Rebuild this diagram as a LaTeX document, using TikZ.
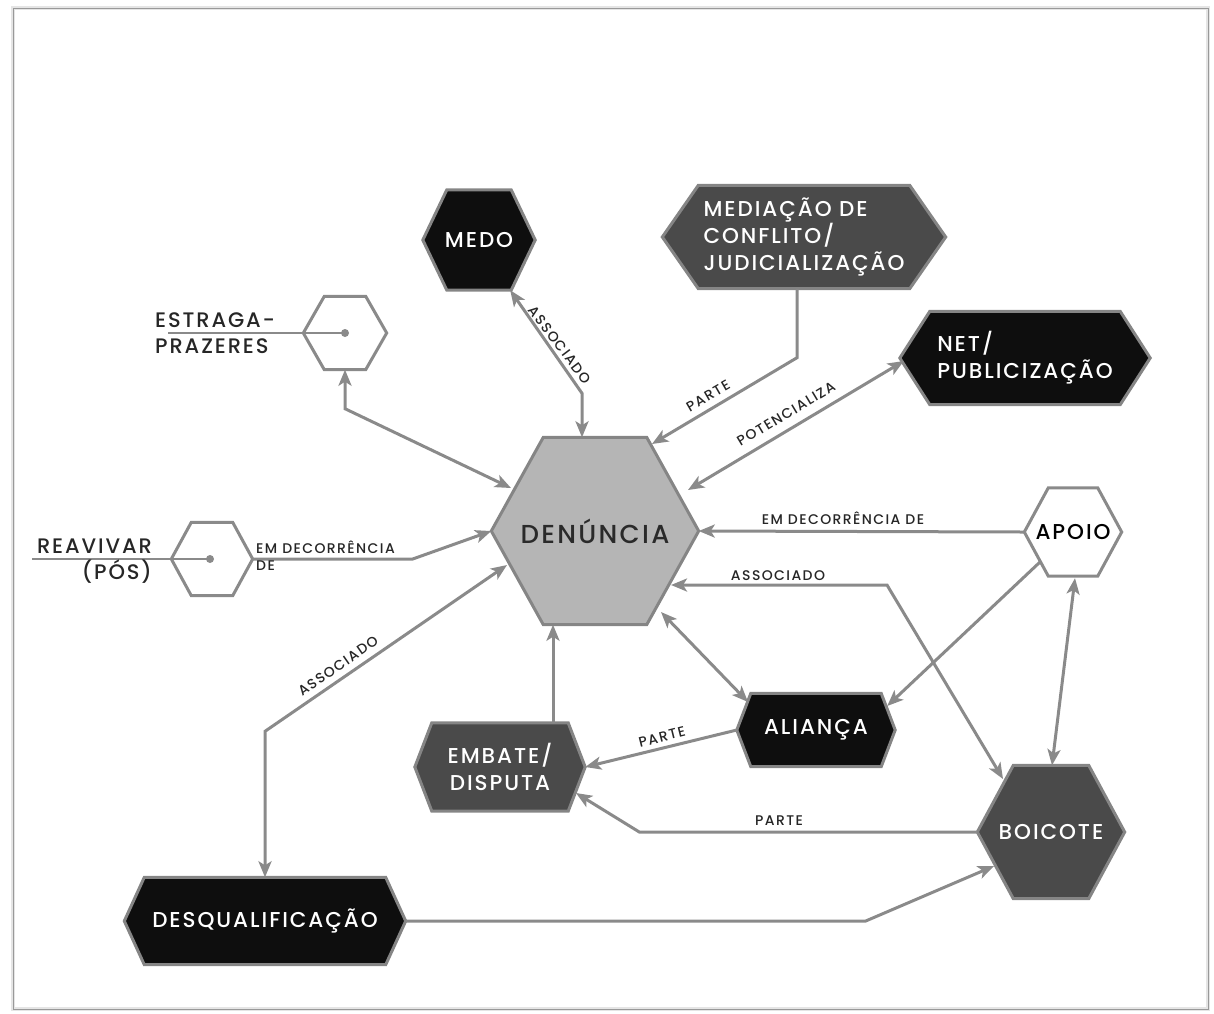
\documentclass[tikz,border=0pt]{standalone}
\usepackage{fontspec}
\setmainfont{Poppins}[UprightFont=* Medium, LetterSpace=9]
\newfontfamily\lblfont{Poppins}[UprightFont=* Medium, LetterSpace=10]
\usetikzlibrary{calc,arrows.meta}
\pgfdeclarelayer{bg}
\pgfsetlayers{bg,main}
\definecolor{edgegray}{HTML}{8A8A8A}
\definecolor{hexborder}{HTML}{858585}
\definecolor{darkfill}{HTML}{4A4A4A}
\definecolor{blackfill}{HTML}{0E0E0E}
\definecolor{denfill}{HTML}{B5B5B5}
\definecolor{dentext}{HTML}{2A2A2A}
\newcommand{\hexpath}[3]{%
  \begin{pgfonlayer}{bg}
  \path[#3] (#1.west) -- ($(#1.north west)+(#2,0)$) -- ($(#1.north east)+(-#2,0)$) -- (#1.east) -- ($(#1.south east)+(-#2,0)$) -- ($(#1.south west)+(#2,0)$) -- cycle;
  \end{pgfonlayer}}
\begin{document}
\begin{tikzpicture}[x=1pt,y=-1pt,
  >={Stealth[length=16pt,width=13pt,inset=4pt]},
  edge/.style={draw=edgegray, line width=3pt},
  hexnode/.style={rectangle, inner sep=0pt, draw=none, align=center, font=\fontsize{21.5pt}{27pt}\selectfont},
  lbl/.style={inner sep=0pt, text=black!85, font=\lblfont\fontsize{14pt}{17pt}\selectfont},
  hexblack/.style={fill=blackfill, draw=hexborder, line width=3pt},
  hexdark/.style={fill=darkfill, draw=hexborder, line width=3pt},
  hexwhite/.style={fill=white, draw=edgegray, line width=3pt},
  sidetxt/.style={inner sep=0pt, text=black!85, font=\fontsize{21pt}{26pt}\selectfont}
]
\useasboundingbox (0,0) rectangle (1214,1013);
% page frame
\draw[black!10, line width=4pt] (13,8) rectangle (1208,1009);
\draw[black!40, line width=1pt] (13,8) rectangle (1208,1009);

% nodes
\node[hexnode, minimum width=112pt, minimum height=100pt, text=white] (medo) at (479,240) {MEDO};
\node[hexnode, minimum width=83pt, minimum height=73pt] (estraga) at (345,333) {};
\node[hexnode, minimum width=283pt, minimum height=103pt, text=white, align=left] (mediacao) at (804,237) {MEDIAÇÃO DE\\CONFLITO/\\JUDICIALIZAÇÃO};
\node[hexnode, minimum width=250pt, minimum height=93pt, text=white, align=left] (net) at (1025,358) {NET/\\PUBLICIZAÇÃO};
\node[hexnode, minimum width=207pt, minimum height=187pt, text=dentext, font=\fontsize{26pt}{30pt}\selectfont] (den) at (595,531) {DENÚNCIA};
\node[hexnode, minimum width=81pt, minimum height=73pt] (reav) at (212,559) {};
\node[hexnode, minimum width=97pt, minimum height=88pt, text=black] (apoio) at (1073,532) {APOIO};
\node[hexnode, minimum width=158pt, minimum height=73pt, text=white] (alianca) at (816,730) {ALIANÇA};
\node[hexnode, minimum width=170pt, minimum height=88pt, text=white] (embate) at (500,767) {EMBATE/\\DISPUTA};
\node[hexnode, minimum width=147pt, minimum height=133pt, text=white] (boicote) at (1051,832) {BOICOTE};
\node[hexnode, minimum width=281pt, minimum height=87pt, text=white] (desq) at (265,921) {DESQUALIFICAÇÃO};

\hexpath{medo}{24}{hexblack}
\hexpath{estraga}{21}{hexwhite}
\hexpath{mediacao}{36}{hexdark}
\hexpath{net}{30}{hexblack}
\hexpath{den}{52}{fill=denfill, draw=hexborder, line width=3pt}
\hexpath{reav}{20}{hexwhite}
\hexpath{apoio}{24}{hexwhite}
\hexpath{alianca}{14}{hexblack}
\hexpath{embate}{17}{hexdark}
\hexpath{boicote}{36}{hexdark}
\hexpath{desq}{20}{hexblack}

% side labels with pin lines
\fill[edgegray] (estraga.center) circle (4pt);
\draw[edgegray, line width=2.2pt] (estraga.center) -- ++(-177,0) coordinate (estragaend);
\node[sidetxt, anchor=west, align=left] (estragatxt) at (155,333) {ESTRAGA-\\PRAZERES};
\fill[edgegray] ($(reav.center)+(-2,0)$) circle (4pt);
\draw[edgegray, line width=2.2pt] ($(reav.center)+(-2,0)$) -- ++(-178,0) coordinate (reavend);
\node[sidetxt, anchor=east, align=right] (reavtxt) at (152,561) {REAVIVAR\\(PÓS)};

% edges
\draw[edge, <->] ($(medo.south east)+(-25,0)$) -- ($(den.north)+(-13,-44)$) -- ($(den.north)+(-13,0)$);
\node[lbl, rotate=-53] (l1) at (560,345) {ASSOCIADO};

\draw[edge, ->] ($(mediacao.south)+(-7,0)$) -- ($(mediacao.south)+(-7,69)$) -- ($(den.center)+(57,-87)$);
\node[lbl, rotate=30] (l2) at (708,396) {PARTE};

\draw[edge, <->] ($(den.center)+(93,-41)$) -- ($(net.west)+(4,3)$);
\node[lbl, rotate=31] (l3) at (786,414) {POTENCIALIZA};

\draw[edge, <->] (estraga.south) -- ($(estraga.south)+(0,39)$) -- ($(den.center)+(-84,-43)$);

\draw[edge, ->] (reav.east) -- ($(reav.east)+(160,0)$) -- (den.west);
\node[lbl, anchor=north west, align=left] (l5) at (256,541) {EM DECORRÊNCIA\\DE};

\draw[edge, ->] (apoio.west) -- (den.east);
\node[lbl] (l6) at (843,518) {EM DECORRÊNCIA DE};

\draw[edge, <->] ($(den.center)+(76,54)$) -- (887,585) -- ($(boicote.center)+(-48,-53)$);
\node[lbl] (l7) at (778,576) {ASSOCIADO};

\draw[edge, ->] ($(apoio.center)+(-33,30)$) -- ($(alianca.east)+(-8,-24)$);
\draw[edge, <->] ($(apoio.south)+(2,2)$) -- ($(boicote.north)+(1,0)$);
\draw[edge, <->] ($(den.center)+(66,81)$) -- ($(alianca.center)+(-68,-28)$);
\draw[edge, ->] ($(embate.north)+(53,0)$) -- ($(den.south)+(-42,0)$);

\draw[edge, ->] (alianca.west) -- (embate.east);
\node[lbl, rotate=14] (l12) at (662,737) {PARTE};

\draw[edge, ->] (boicote.west) -- ($(boicote.west)+(-338,0)$) -- ($(embate.center)+(76,26)$);
\node[lbl] (l13) at (779,821) {PARTE};

\draw[edge, <->] ($(den.center)+(-88,34)$) -- ($(desq.north)+(0,-146)$) -- (desq.north);
\node[lbl, rotate=35] (l14) at (338,666) {ASSOCIADO};

\draw[edge, ->] (desq.east) -- ($(desq.east)+(460,0)$) -- ($(boicote.center)+(-57,34)$);
\end{tikzpicture}
\end{document}
